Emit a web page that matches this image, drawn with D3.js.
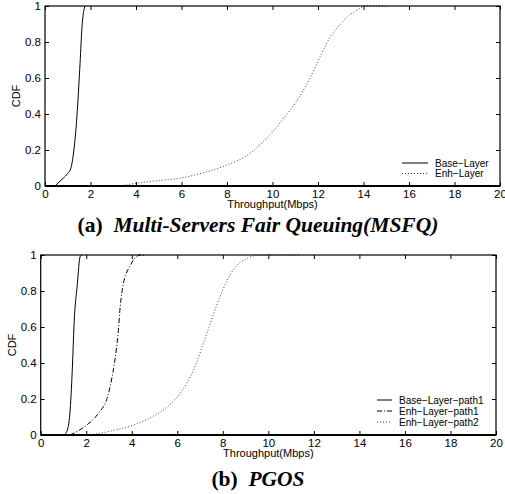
<!DOCTYPE html>
<html>
<head>
<meta charset="utf-8">
<script src="https://cdn.jsdelivr.net/npm/d3@7"></script>
<style>
  body { margin: 0; background: #fff; }
  svg { display: block; }
  text { font-family: "Liberation Sans", Arial, sans-serif; fill: #000; }
</style>
</head>
<body>
<svg width="505" height="494"></svg>
<script>
'use strict';

// ---------- data ----------
const xTicks = [0, 2, 4, 6, 8, 10, 12, 14, 16, 18, 20];
const yTicks = [0, 0.2, 0.4, 0.6, 0.8, 1];

// (a) MSFQ  [throughput, cdf]
const msfqBase = [[0.44, 0], [0.6, 0.02], [0.8, 0.043], [1.0, 0.07], [1.14, 0.1],
  [1.27, 0.2], [1.35, 0.3], [1.42, 0.42], [1.54, 0.68], [1.63, 0.89], [1.7, 0.97], [1.76, 1]];
const msfqEnh = [[3.3, 0], [4, 0.015], [5, 0.03], [6, 0.045], [7, 0.075], [8, 0.117],
  [9, 0.18], [9.5, 0.235], [10, 0.3], [10.55, 0.385], [11, 0.46], [11.65, 0.6],
  [12.1, 0.72], [12.5, 0.82], [13, 0.9], [13.3, 0.94], [13.9, 0.99], [14.1, 1], [15, 1]];

// (b) PGOS
const pgosBase1 = [[1.04, 0], [1.21, 0.046], [1.32, 0.19], [1.4, 0.4], [1.46, 0.6],
  [1.61, 0.84], [1.73, 0.99], [1.8, 1]];
const pgosEnh1 = [[1.29, 0], [1.6, 0.02], [2.02, 0.055], [2.53, 0.12], [2.93, 0.21],
  [3.1, 0.3], [3.24, 0.4], [3.41, 0.58], [3.49, 0.71], [3.63, 0.84], [3.93, 0.94],
  [4.2, 0.99], [4.36, 1], [4.6, 1]];
const pgosEnh2 = [[2.17, 0], [3, 0.02], [4.07, 0.055], [5.02, 0.11], [5.6, 0.16],
  [6.12, 0.23], [6.71, 0.36], [7.3, 0.565], [7.88, 0.77], [8.47, 0.92], [9.05, 0.98],
  [9.64, 1], [11.4, 1]];

const panels = [
  {
    box: { x0: 45, x1: 500, y0: 6, y1: 186 },
    series: [
      { name: 'Base\u2212Layer', values: msfqBase, dash: null, color: '#000' },
      { name: 'Enh\u2212Layer', values: msfqEnh, dash: '1,2', color: '#444' }
    ],
    legend: { x0: 402, x1: 428, tx: 435, y: 163, dy: 10.5 },
    title: ['(a)', 'Multi-Servers Fair Queuing(MSFQ)'],
    titleX: 258, titleY: 232
  },
  {
    box: { x0: 40.7, x1: 496, y0: 255, y1: 435 },
    series: [
      { name: 'Base\u2212Layer\u2212path1', values: pgosBase1, dash: null, color: '#000' },
      { name: 'Enh\u2212Layer\u2212path1', values: pgosEnh1, dash: '5,2,1,2', color: '#000' },
      { name: 'Enh\u2212Layer\u2212path2', values: pgosEnh2, dash: '1,2', color: '#444' }
    ],
    legend: { x0: 377, x1: 392, tx: 399, y: 400, dy: 11 },
    title: ['(b)', 'PGOS'],
    titleX: 258, titleY: 486
  }
];

const svg = d3.select('svg');
svg.append('rect').attr('width', 505).attr('height', 494).attr('fill', '#fff');

panels.forEach(p => {
  const b = p.box;
  const x = d3.scaleLinear().domain([0, 20]).range([b.x0, b.x1]);
  const y = d3.scaleLinear().domain([0, 1]).range([b.y1, b.y0]);
  const g = svg.append('g');

  // curves
  const line = d3.line().x(d => x(d[0])).y(d => y(d[1])).curve(d3.curveMonotoneX);
  p.series.forEach(s => {
    g.append('path')
      .attr('d', line(s.values))
      .attr('fill', 'none')
      .attr('stroke', s.color)
      .attr('stroke-width', 1)
      .attr('stroke-dasharray', s.dash);
  });

  // axes with inward ticks on all four sides
  const bottom = d3.axisBottom(x).tickValues(xTicks).tickSizeInner(-4).tickSizeOuter(0)
    .tickPadding(4).tickFormat(d3.format('d'));
  const top = d3.axisTop(x).tickValues(xTicks).tickSizeInner(-4).tickSizeOuter(0).tickFormat('');
  const left = d3.axisLeft(y).tickValues(yTicks).tickSizeInner(-4).tickSizeOuter(0)
    .tickPadding(4).tickFormat(d => d === 0 || d === 1 ? d3.format('d')(d) : d3.format('.1f')(d));
  const right = d3.axisRight(y).tickValues(yTicks).tickSizeInner(-4).tickSizeOuter(0).tickFormat('');

  const axes = [
    g.append('g').attr('transform', `translate(0,${b.y1})`).call(bottom),
    g.append('g').attr('transform', `translate(0,${b.y0})`).call(top),
    g.append('g').attr('transform', `translate(${b.x0},0)`).call(left),
    g.append('g').attr('transform', `translate(${b.x1},0)`).call(right)
  ];
  axes.forEach(a => {
    a.select('.domain').remove();
    a.attr('font-size', null).attr('font-family', null);
    a.selectAll('.tick line').attr('stroke', '#000');
    a.selectAll('text').style('font-size', '11.5px').attr('fill', '#000');
  });

  // frame
  g.append('rect')
    .attr('x', b.x0).attr('y', b.y0)
    .attr('width', b.x1 - b.x0).attr('height', b.y1 - b.y0)
    .attr('fill', 'none').attr('stroke', '#000').attr('stroke-width', 1.2);
  g.append('line')
    .attr('x1', b.x0).attr('x2', b.x1).attr('y1', b.y1).attr('y2', b.y1)
    .attr('stroke', '#000').attr('stroke-width', 2);

  // axis labels
  g.append('text')
    .attr('x', (b.x0 + b.x1) / 2).attr('y', b.y1 + 22)
    .attr('text-anchor', 'middle').style('font-size', '11px')
    .text('Throughput(Mbps)');
  g.append('text')
    .attr('transform', `translate(${b.x0 - 25},${(b.y0 + b.y1) / 2}) rotate(-90)`)
    .attr('text-anchor', 'middle').style('font-size', '11px')
    .text('CDF');

  // legend (no box)
  const lg = p.legend;
  p.series.forEach((s, i) => {
    const yy = lg.y + i * lg.dy;
    g.append('line')
      .attr('x1', lg.x0).attr('x2', lg.x1).attr('y1', yy).attr('y2', yy)
      .attr('stroke', s.color).attr('stroke-width', 1)
      .attr('stroke-dasharray', s.dash);
    g.append('text')
      .attr('x', lg.tx).attr('y', yy).attr('dy', '0.35em')
      .style('font-size', '10px')
      .text(s.name);
  });

  // caption
  const t = svg.append('text')
    .attr('x', p.titleX).attr('y', p.titleY)
    .attr('text-anchor', 'middle')
    .style('font-family', '"Liberation Serif", "Times New Roman", serif')
    .style('font-size', '21.5px').style('font-weight', 'bold');
  t.append('tspan').text(p.title[0] + '\u00a0\u00a0');
  t.append('tspan').style('font-style', 'italic').text(p.title[1]);
});
</script>
</body>
</html>
